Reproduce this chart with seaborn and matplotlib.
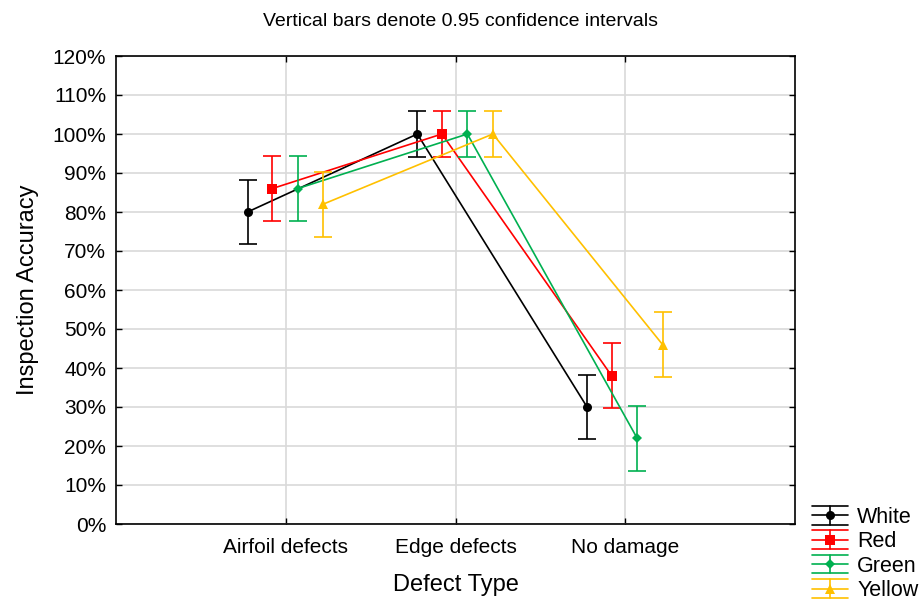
import numpy as np
import pandas as pd
import matplotlib
matplotlib.use("Agg")
import matplotlib.pyplot as plt
import seaborn as sns
from matplotlib.ticker import FuncFormatter
from matplotlib.lines import Line2D
from matplotlib.legend_handler import HandlerBase

categories = ["Airfoil defects", "Edge defects", "No damage"]
series = ["White", "Red", "Green", "Yellow"]
white = [80, 100, 30]
red = [86, 100, 38]
green = [86, 100, 22]
yellow = [82, 100, 46]
ci_half = [8.3, 5.9, 8.3]

values = {"White": white, "Red": red, "Green": green, "Yellow": yellow}
colors = {"White": "#000000", "Red": "#ff0000", "Green": "#00b050", "Yellow": "#ffc000"}
markers = {"White": "o", "Red": "s", "Green": "D", "Yellow": "^"}
msizes = {"White": 6.5, "Red": 6.5, "Green": 5, "Yellow": 7}
offsets = {"White": -0.225, "Red": -0.08, "Green": 0.07, "Yellow": 0.22}

rows = []
for s in series:
    for i, c in enumerate(categories):
        rows.append({"series": s, "cat": c, "x": i + offsets[s],
                     "y": values[s][i], "ci": ci_half[i]})
df = pd.DataFrame(rows)

sns.set_style("white")
plt.rcParams['font.family'] = ['Liberation Sans', 'DejaVu Sans']
plt.rcParams['text.color'] = 'black'
plt.rcParams['axes.labelcolor'] = 'black'
plt.rcParams['xtick.color'] = 'black'
plt.rcParams['ytick.color'] = 'black'


class CIHandle:
    def __init__(self, color, marker, ms):
        self.color = color
        self.marker = marker
        self.ms = ms


class HandlerCI(HandlerBase):
    def create_artists(self, legend, orig_handle, xdescent, ydescent, width,
                       height, fontsize, trans):
        x0, x1 = -xdescent, -xdescent + width
        yc = -ydescent + height / 2
        dy = height * 0.62
        xc = (x0 + x1) / 2
        c = orig_handle.color
        arts = [
            Line2D([x0, x1], [yc, yc], color=c, lw=1.2),
            Line2D([x0, x1], [yc + dy, yc + dy], color=c, lw=1.2),
            Line2D([x0, x1], [yc - dy, yc - dy], color=c, lw=1.2),
            Line2D([xc, xc], [yc - dy, yc + dy], color=c, lw=1.2),
            Line2D([xc], [yc], color=c, marker=orig_handle.marker,
                   markersize=orig_handle.ms, markeredgewidth=0, lw=0),
        ]
        for a in arts:
            a.set_transform(trans)
        return arts


fig = plt.figure(figsize=(9.21, 6.02), dpi=100)
ax = fig.add_axes([116/921, 1 - 524/602, (795-116)/921, (524-56)/602])

for s in series:
    d = df[df.series == s]
    sns.lineplot(data=d, x="x", y="y", ax=ax, color=colors[s], marker=markers[s],
                 markersize=msizes[s], markeredgewidth=0, linewidth=1.2,
                 legend=False, sort=False)
    ax.errorbar(d["x"], d["y"], yerr=d["ci"], fmt="none", ecolor=colors[s],
                elinewidth=1.2, capsize=6.5, capthick=1.2)

handles = [CIHandle(colors[s], markers[s], msizes[s]) for s in series]

ax.set_xlim(-1, 3)
ax.set_ylim(0, 120)
ax.set_xticks(range(len(categories)))
ax.set_xticklabels(categories)
ax.set_yticks(np.arange(0, 121, 10))
ax.yaxis.set_major_formatter(FuncFormatter(lambda v, p: f"{int(v)}%"))
ax.grid(True, color="#d9d9d9", linewidth=1.2)
ax.set_axisbelow(True)
for sp in ax.spines.values():
    sp.set_visible(True)
    sp.set_color("black")
    sp.set_linewidth(1.2)
ax.tick_params(axis="both", direction="in", length=4, width=1, labelsize=15,
               top=True, right=True, left=True, bottom=True)
ax.tick_params(axis="y", pad=7)
ax.tick_params(axis="x", pad=10)
ax.set_xlabel("Defect Type", fontsize=17, labelpad=12)
ax.set_ylabel("Inspection Accuracy", fontsize=17, labelpad=10)
fig.text(0.5, 1 - 22/602, "Vertical bars denote 0.95 confidence intervals",
         ha="center", va="center", fontsize=14)

fig.legend(handles=handles, labels=series, loc="lower left",
           bbox_to_anchor=(810/921, -0.002), frameon=False, fontsize=15.5,
           handlelength=1.65, handleheight=0.7, labelspacing=0.16,
           handletextpad=0.45, borderaxespad=0, borderpad=0.1,
           handler_map={CIHandle: HandlerCI()})

fig.savefig("out.png", dpi=100)
